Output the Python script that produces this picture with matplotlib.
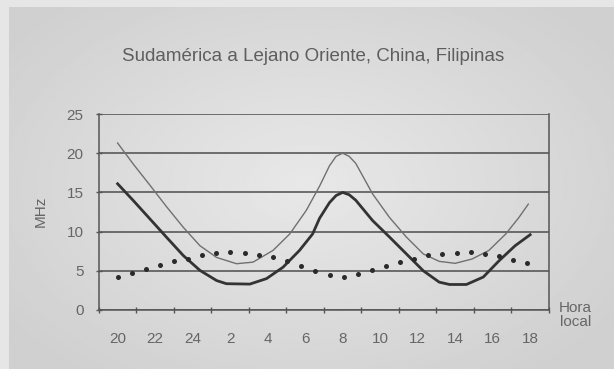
import matplotlib
matplotlib.use('Agg')
import matplotlib.pyplot as plt
import numpy as np

plt.rcParams['font.family'] = ['Liberation Sans', 'DejaVu Sans']

# hours counted from 20:00 local time
tick_labels = ['20', '22', '24', '2', '4', '6', '8', '10', '12', '14', '16', '18']
label_pos = [0, 2, 4, 6, 8, 10, 12, 14, 16, 18, 20, 22]

# upper curve (thin)
thin_x = [0.0, 0.84, 1.73, 2.6, 3.5, 4.39, 5.28, 6.34, 7.22, 8.29, 9.18, 10.06,
          10.77, 11.3, 11.65, 12.0, 12.35, 12.7, 13.6, 14.5, 15.4, 16.3,
          17.15, 18.0, 18.9, 19.8, 20.7, 21.4, 21.9]
thin_y = [21.3, 18.6, 15.9, 13.2, 10.55, 8.2, 6.7, 5.9, 6.1, 7.6, 9.7, 12.7,
          15.8, 18.4, 19.6, 20.0, 19.6, 18.7, 14.8, 11.8, 9.3, 7.15,
          6.2, 5.95, 6.5, 7.6, 9.7, 11.8, 13.5]

# lower curve (thick)
thick_x = [0.0, 0.84, 1.73, 2.6, 3.5, 4.39, 5.28, 5.8, 7.05, 7.94, 8.82, 9.7,
           10.4, 10.77, 11.3, 11.65, 12.0, 12.35, 12.7, 13.6, 14.5, 15.4,
           16.3, 17.15, 17.7, 18.6, 19.5, 20.35, 21.2, 22.0]
thick_y = [16.1, 13.95, 11.6, 9.3, 6.95, 5.05, 3.75, 3.35, 3.3, 4.0, 5.45, 7.6,
           9.7, 11.7, 13.7, 14.6, 15.0, 14.7, 14.0, 11.4, 9.3, 7.15,
           5.0, 3.55, 3.25, 3.25, 4.2, 6.3, 8.2, 9.6]

# dotted series
dot_x = [0.0, 0.75, 1.5, 2.26, 3.01, 3.76, 4.52, 5.27, 6.02, 6.78, 7.53, 8.28,
         9.04, 9.79, 10.54, 11.3, 12.05, 12.8, 13.56, 14.31, 15.06, 15.82,
         16.57, 17.32, 18.08, 18.83, 19.58, 20.34, 21.09, 21.84]
dot_y = [4.2, 4.75, 5.25, 5.75, 6.2, 6.55, 6.95, 7.27, 7.4, 7.3, 7.05, 6.75,
         6.2, 5.6, 5.0, 4.45, 4.25, 4.6, 5.1, 5.55, 6.1, 6.55, 6.95, 7.15,
         7.3, 7.4, 7.2, 6.85, 6.4, 5.95]

fig = plt.figure(figsize=(6.14, 3.69), dpi=100)
fig.patch.set_facecolor('#cfcfcf')

# soft light background behind the plot
bg = fig.add_axes([0, 0, 1, 1], zorder=-5)
gx, gy = np.meshgrid(np.linspace(0, 1, 300), np.linspace(0, 1, 200))
r = np.sqrt(((gx - 0.5) / 0.6) ** 2 + ((gy - 0.5) / 0.65) ** 2)
shade = 0.815 + 0.095 * np.clip(1 - r, 0, 1)
bg.imshow(shade, cmap='gray', vmin=0, vmax=1, extent=[0, 1, 0, 1],
          aspect='auto', origin='lower')
bg.axhspan(0.981, 1.0, color='#e6e6e6', lw=0)
bg.axvspan(0.0, 0.014, color='#e6e6e6', lw=0)
bg.set_xlim(0, 1)
bg.set_ylim(0, 1)
bg.axis('off')

ax = fig.add_axes([0.161, 0.160, 0.733, 0.531])
ax.set_facecolor('none')

ax.plot(thin_x, thin_y, color='#707070', lw=1.0)
ax.plot(thick_x, thick_y, color='#333333', lw=2.0)
ax.plot(dot_x, dot_y, 'o', color='#2a2a2a', ms=3.6, mec='none')

ax.set_xlim(-1, 23)
ax.set_ylim(0, 25)
ax.set_yticks([0, 5, 10, 15, 20, 25])
ax.yaxis.grid(True, color='#4d4d4d', lw=1.1)
ax.set_axisbelow(True)

ax.set_xticks(label_pos)
ax.set_xticklabels(tick_labels)
ax.set_xticks([-1, 1, 3, 5, 7, 9, 11, 13, 15, 17, 19, 21, 23], minor=True)
ax.tick_params(axis='x', which='major', length=0, pad=16, labelsize=11,
               labelcolor='#666666')
ax.tick_params(axis='x', which='minor', length=4, direction='inout',
               color='#555555', width=1)
ax.tick_params(axis='y', length=4, color='#555555', width=1, labelsize=11,
               labelcolor='#666666', pad=9, direction='inout')

for side in ['left', 'bottom', 'right']:
    ax.spines[side].set_color('#555555')
    ax.spines[side].set_linewidth(1.1)
ax.spines['top'].set_visible(False)

ax.set_ylabel('MHz', color='#666666', fontsize=11)
ax.yaxis.set_label_coords(-0.113, 0.505)

fig.text(0.51, 0.846, 'Sudamérica a Lejano Oriente, China, Filipinas',
         ha='center', va='center', fontsize=13.5, color='#5e5e5e')
fig.text(0.937, 0.146, 'Hora\nlocal', ha='center', va='center', fontsize=11,
         color='#666666', linespacing=1.05)

fig.savefig('out.png', dpi=100, facecolor=fig.get_facecolor())
